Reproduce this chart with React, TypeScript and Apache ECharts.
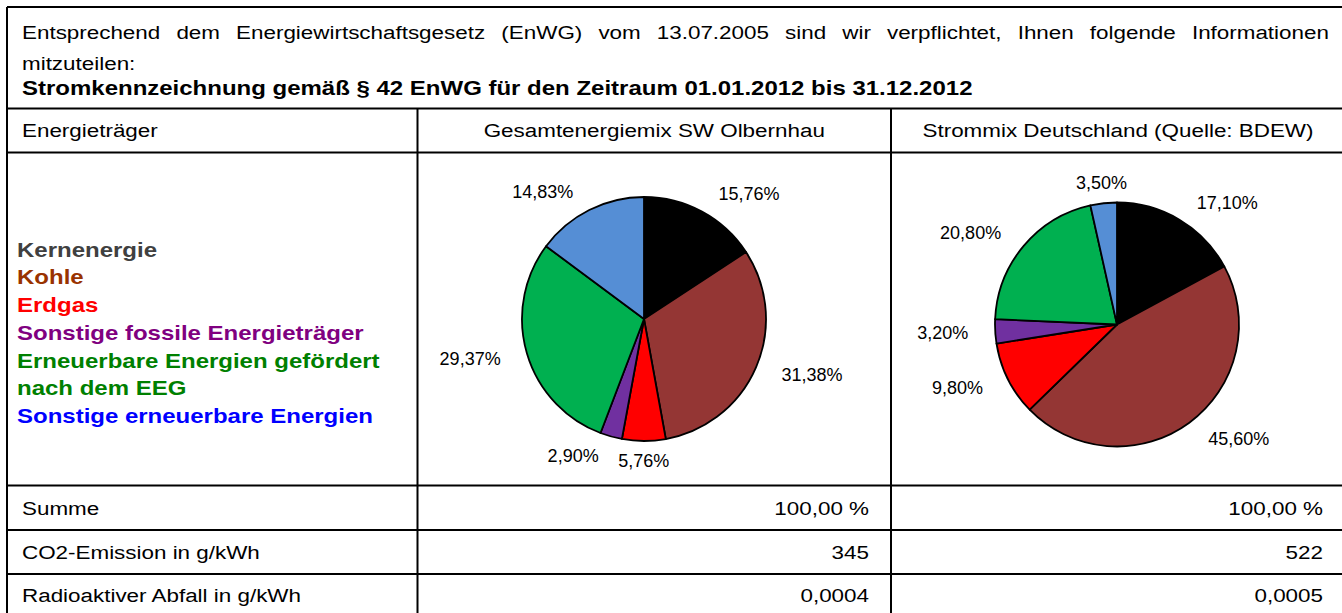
import React, { useEffect, useRef } from 'react';
import * as echarts from 'echarts';

const categories = [
  'Kernenergie',
  'Kohle',
  'Erdgas',
  'Sonstige fossile Energieträger',
  'Erneuerbare Energien gefördert nach dem EEG',
  'Sonstige erneuerbare Energien',
];
const olbernhauValues = [15.76, 31.38, 5.76, 2.9, 29.37, 14.83];
const deutschlandValues = [17.1, 45.6, 9.8, 3.2, 20.8, 3.5];
const sliceColors = ['#000000', '#943634', '#FF0000', '#7030A0', '#00B050', '#558ED5'];
const legendColors = ['#404040', '#993300', '#FF0000', '#800080', '#008000', '#0000FF'];
const legendLines = [
  ['Kernenergie'],
  ['Kohle'],
  ['Erdgas'],
  ['Sonstige fossile Energieträger'],
  ['Erneuerbare Energien gefördert', 'nach dem EEG'],
  ['Sonstige erneuerbare Energien'],
];
const introLine1 =
  'Entsprechend dem Energiewirtschaftsgesetz (EnWG) vom 13.07.2005 sind wir verpflichtet, Ihnen folgende Informationen';
const introLine2 = 'mitzuteilen:';
const titleLine = 'Stromkennzeichnung gemäß § 42 EnWG für den Zeitraum 01.01.2012 bis 31.12.2012';
const columnHeaders = ['Energieträger', 'Gesamtenergiemix SW Olbernhau', 'Strommix Deutschland (Quelle: BDEW)'];
const rowLabels = ['Summe', 'CO2-Emission in g/kWh', 'Radioaktiver Abfall in g/kWh'];
const olbernhauRow = ['100,00 %', '345', '0,0004'];
const deutschlandRow = ['100,00 %', '522', '0,0005'];

const FONT = '"Liberation Sans", Arial, sans-serif';
const FS = 19;
const SX = 1.18;
const BFS = 20;
const BSX = 1.2;

const PIE_R = 122;
const LABEL_LEN = 20;
const pieCenters = [
  [644, 319],
  [1117, 324.5],
];
const pieValues = [olbernhauValues, deutschlandValues];

function measure(text: string, fs: number, weight: string) {
  const c = document.createElement('canvas');
  const ctx = c.getContext('2d')!;
  ctx.font = `${weight} ${fs}px "Liberation Sans"`;
  return ctx.measureText(text).width;
}

function txt(text: string, x: number, y: number, o: any = {}) {
  const bold = o.weight === 'bold';
  return {
    type: 'text',
    x,
    y,
    scaleX: bold ? BSX : SX,
    silent: true,
    style: {
      text,
      fontSize: bold ? BFS : FS,
      fontFamily: FONT,
      fontWeight: o.weight ?? 'normal',
      fill: o.fill ?? '#000',
      align: o.align ?? 'left',
      verticalAlign: 'middle',
    },
  };
}

function line(x1: number, y1: number, x2: number, y2: number) {
  return {
    type: 'line',
    silent: true,
    shape: { x1, y1, x2, y2 },
    style: { stroke: '#000', lineWidth: 2 },
  };
}

function midDirection(values: number[], idx: number) {
  const total = values.reduce((a, b) => a + b, 0);
  let before = 0;
  for (let i = 0; i < idx; i++) before += values[i];
  const mid = ((before + values[idx] / 2) / total) * Math.PI * 2;
  return [Math.sin(mid), -Math.cos(mid)];
}

export default function App() {
  const ref = useRef<HTMLDivElement>(null);
  useEffect(() => {
    document.body.style.margin = '0';
    const chart = echarts.init(ref.current!, null, { renderer: 'svg' });

    const X0 = 7, XC1 = 417.5, XC2 = 891, XR = 1345;
    const rows = [7, 108.5, 152.5, 485.5, 530, 574, 620];
    const graphics: any[] = [];
    for (let i = 0; i < rows.length; i++) graphics.push(line(X0, rows[i], XR, rows[i]));
    graphics.push(line(X0, rows[0], X0, 620));
    graphics.push(line(XC1, rows[1], XC1, 620));
    graphics.push(line(XC2, rows[1], XC2, 620));

    // justified first intro line
    const words = introLine1.split(' ');
    const widths = words.map((w) => measure(w, FS, 'normal') * SX);
    const left = 22, right = 1329;
    const total = widths.reduce((a, b) => a + b, 0);
    const gap = (right - left - total) / (words.length - 1);
    let cx = left;
    words.forEach((w, i) => {
      graphics.push(txt(w, cx, 32));
      cx += widths[i] + gap;
    });
    graphics.push(txt(introLine2, left, 63));
    graphics.push(txt(titleLine, left, 88, { weight: 'bold' }));

    // headers
    graphics.push(txt(columnHeaders[0], 22, 130.5));
    graphics.push(txt(columnHeaders[1], (XC1 + XC2) / 2, 130.5, { align: 'center' }));
    graphics.push(txt(columnHeaders[2], (XC2 + XR) / 2, 130.5, { align: 'center' }));

    // legend
    let ly = 250;
    legendLines.forEach((ls, i) => {
      ls.forEach((l) => {
        graphics.push(txt(l, 17, ly, { weight: 'bold', fill: legendColors[i] }));
        ly += 27.7;
      });
    });

    // bottom rows
    const rowCenters = [508, 552, 595];
    rowLabels.forEach((r, i) => {
      graphics.push(txt(r, 22, rowCenters[i]));
      graphics.push(txt(olbernhauRow[i], 869, rowCenters[i], { align: 'right' }));
      graphics.push(txt(deutschlandRow[i], 1323, rowCenters[i], { align: 'right' }));
    });

    const pieBase = (si: number) => ({
      type: 'pie',
      center: pieCenters[si],
      radius: PIE_R,
      startAngle: 90,
      clockwise: true,
      silent: true,
      avoidLabelOverlap: false,
      itemStyle: { borderColor: '#000', borderWidth: 1.8 },
      label: {
        show: true,
        position: 'outside',
        fontSize: 18,
        fontFamily: FONT,
        color: '#000',
        formatter: (p: any) => p.value.toFixed(2).replace('.', ',') + '%',
      },
      labelLine: { show: false, length: LABEL_LEN, length2: 2 },
      labelLayout: (params: any) => {
        const [dx] = midDirection(pieValues[si], params.dataIndex);
        if (Math.abs(dx) < 0.15) {
          return { x: pieCenters[si][0] + (PIE_R + LABEL_LEN) * dx, align: 'center' };
        }
        return {};
      },
      emphasis: { disabled: true },
      data: pieValues[si].map((v, i) => ({ name: categories[i], value: v, itemStyle: { color: sliceColors[i] } })),
    });

    chart.setOption({
      animation: false,
      backgroundColor: '#fff',
      series: [pieBase(0), pieBase(1)],
      graphic: { elements: graphics },
    });
    return () => chart.dispose();
  }, []);
  return <div ref={ref} style={{ width: 1342, height: 613 }} />;
}
